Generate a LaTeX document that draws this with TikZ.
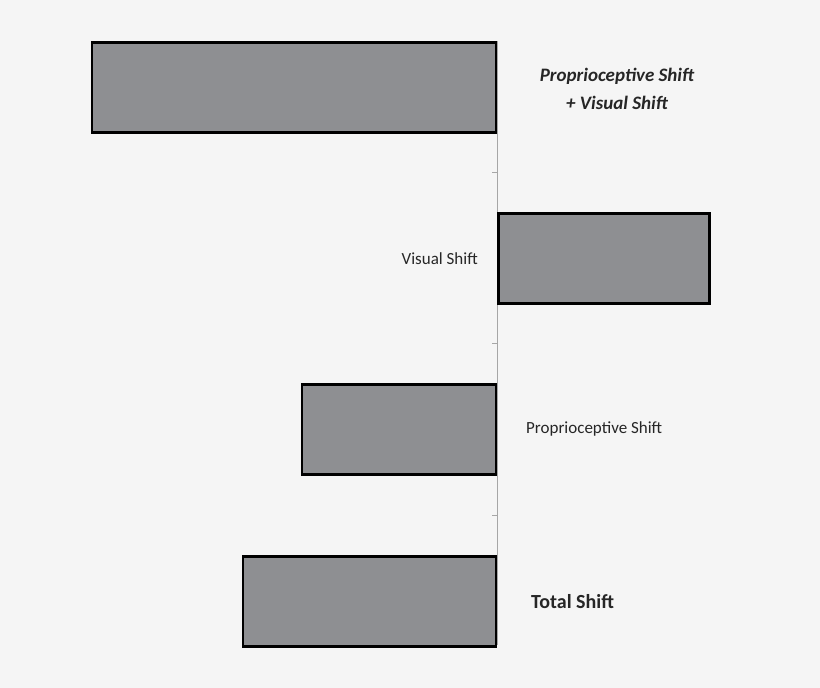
\documentclass[tikz,border=0pt]{standalone}
\usepackage{fontspec}
\setmainfont{Carlito}
\usetikzlibrary{positioning}
\definecolor{bargray}{HTML}{8E8F92}
\definecolor{bggray}{HTML}{F5F5F5}
\tikzset{
	bar/.style={draw=black, line width=2.5pt, fill=bargray, inner sep=0pt, minimum height=90pt},
	lbl/.style={font=\fontsize{17}{21}\selectfont, text=black!85, inner sep=0pt}
}
\begin{document}
\begin{tikzpicture}[x=1pt, y=-1pt]

	\fill[bggray] (0,0) rectangle (820,688);
	\useasboundingbox (0,0) rectangle (820,688);

	\coordinate (top) at (497,41);
	\coordinate (bot) at (497,645);
	\draw[gray!70, line width=1pt] (top) -- (bot);
	\foreach \y in {172,343,515} {
		\coordinate (t\y) at (497,\y);
		\draw[gray!70, line width=1pt] (t\y) -- ++(-5,0);
	}

	\node[bar, minimum width=404pt, anchor=north east] (b1) at (497,41) {};
	\node[bar, minimum width=211pt, anchor=north west] (b2) at (497,212) {};
	\node[bar, minimum width=194pt, anchor=north east] (b3) at (497,383) {};
	\node[bar, minimum width=253pt, anchor=north east] (b4) at (497,555) {};

	\node[lbl, font=\fontsize{19}{28}\selectfont\bfseries\itshape, align=center] (l1) at (617,89) {Proprioceptive Shift\\+ Visual Shift};
	\node[lbl, anchor=east, left=19pt of b2] (l2) {Visual Shift};
	\node[lbl, anchor=west, right=29pt of b3] (l3) {Proprioceptive Shift};
	\node[lbl, font=\fontsize{20}{24}\selectfont\bfseries, anchor=west, right=34pt of b4] (l4) {Total Shift};

\end{tikzpicture}
\end{document}
